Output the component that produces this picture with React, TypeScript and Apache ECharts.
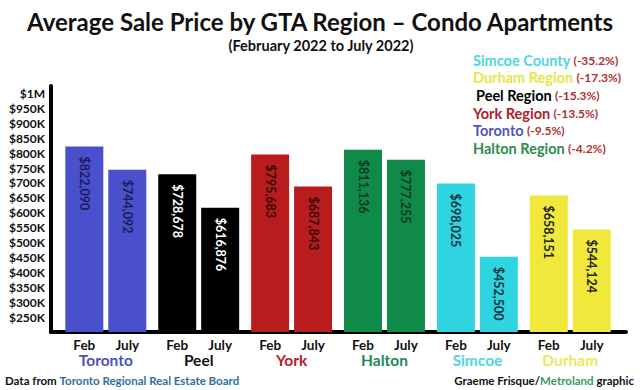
import React, { useEffect, useRef } from "react";
import * as echarts from "echarts";

const regions = ["Toronto", "Peel", "York", "Halton", "Simcoe", "Durham"];
const months = ["Feb", "July"];
const febValues = [822090, 728678, 795683, 811136, 698025, 658151];
const julyValues = [744092, 616876, 687843, 777255, 452500, 544124];
const regionColors = ["#4a4fcc", "#000000", "#b81c1c", "#0f8a49", "#2fd4e0", "#f0e93c"];
const regionNameColors = ["#4b52bf", "#111111", "#b3202a", "#23875a", "#4fd6df", "#e9e95a"];
const valueLabelColors = ["#1a1d5c", "#ffffff", "#3a0a0a", "#0b3a1e", "#0f3540", "#222222"];
const legendNames = ["Simcoe County", "Durham Region", "Peel Region", "York Region", "Toronto", "Halton Region"];
const legendPercents = ["(-35.2%)", "(-17.3%)", "(-15.3%)", "(-13.5%)", "(-9.5%)", "(-4.2%)"];
const legendColors = ["#4fd6dc", "#e6e64a", "#000000", "#b02028", "#5056c0", "#2e8b50"];
const yMin = 200000;
const yMax = 1025000;
const yStep = 50000;

const FONT = "Lato";

export default function App() {
  const ref = useRef<HTMLDivElement>(null);
  useEffect(() => {
    if (!ref.current) return;
    const chart = echarts.init(ref.current, null, { renderer: "svg" });

    const mkSeries = (name: string, vals: number[]) => ({
      name,
      type: "bar",
      barWidth: 38,
      barGap: "13%",
      data: vals.map((v, i) => ({
        value: [i, v],
        itemStyle: { color: regionColors[i] },
        label: { color: valueLabelColors[i] },
      })),
      label: {
        show: true,
        position: "insideTop",
        rotate: -90,
        align: "left",
        verticalAlign: "middle",
        distance: 10,
        fontFamily: FONT,
        fontWeight: "bold",
        fontSize: 12.5,
        formatter: (p: any) => "$" + Number(p.value[1]).toLocaleString("en-US"),
      },
    });

    const rich: any = {
      m: { width: 43, align: "center", fontSize: 13.5, fontWeight: "bold", color: "#111", fontFamily: FONT, lineHeight: 15 },
    };
    regions.forEach((r, i) => {
      rich["r" + i] = { fontSize: 15.5, fontWeight: "bold", color: regionNameColors[i], fontFamily: FONT, lineHeight: 16 };
    });

    const legendGraphics = legendNames.map((n, i) => ({
      type: "text",
      x: i === 2 ? 476 : 473,
      y: 60 + i * 17.7,
      style: {
        text: `{n|${n}} {p|${legendPercents[i]}}`,
        verticalAlign: "middle",
        rich: {
          n: { fontSize: 14.5, fontWeight: "bold", fill: legendColors[i], fontFamily: FONT },
          p: { fontSize: 12, fontWeight: "bold", fill: "#b33030", fontFamily: FONT },
        },
      },
    }));

    chart.setOption({
      animation: false,
      backgroundColor: "#ffffff",
      textStyle: { fontFamily: FONT },
      grid: { left: 51, right: 14, top: 86, bottom: 58, containLabel: false, outerBoundsMode: "none" },
      xAxis: {
        type: "value",
        min: -0.59,
        max: 5.6,
        splitLine: { show: false },
        axisTick: { show: false },
        axisLine: { show: true, onZero: false, lineStyle: { color: "#000", width: 4 } },
        axisLabel: {
          show: true,
          customValues: [0, 1, 2, 3, 4, 5],
          margin: 5,
          formatter: (v: number) => {
            const i = Math.round(v);
            return `{m|${months[0]}}{m|${months[1]}}\n{r${i}|${regions[i]}}`;
          },
          rich,
        },
      },
      yAxis: {
        type: "value",
        min: yMin,
        max: yMax,
        interval: yStep,
        splitLine: { show: false },
        axisTick: { show: false },
        axisLine: { show: true, onZero: false, lineStyle: { color: "#000", width: 4 } },
        axisLabel: {
          margin: 6,
          fontSize: 12,
          fontWeight: "bold",
          color: "#111",
          fontFamily: FONT,
          showMinLabel: false,
          formatter: (v: number) => {
            if (v === yMin || v % yStep !== 0 || v > 1000000) return "";
            if (v === 1000000) return "$1M";
            return "$" + v / 1000 + "K";
          },
        },
      },
      series: [mkSeries(months[0], febValues), mkSeries(months[1], julyValues)],
      graphic: [
        {
          type: "text",
          x: 320,
          y: 21,
          style: {
            text: "Average Sale Price by GTA Region – Condo Apartments",
            align: "center",
            verticalAlign: "middle",
            fontSize: 24,
            fontWeight: "bold",
            fill: "#111",
            fontFamily: FONT,
          },
        },
        {
          type: "text",
          x: 321,
          y: 45,
          style: {
            text: "(February 2022 to July 2022)",
            align: "center",
            verticalAlign: "middle",
            fontSize: 14.5,
            fontWeight: "bold",
            fill: "#111",
            fontFamily: FONT,
          },
        },
        ...legendGraphics,
        {
          type: "text",
          x: 5,
          y: 380,
          style: {
            text: "{a|Data from }{b|Toronto Regional Real Estate Board}",
            verticalAlign: "middle",
            rich: {
              a: { fontSize: 11.5, fontWeight: "bold", fill: "#111", fontFamily: FONT },
              b: { fontSize: 11.5, fontWeight: "bold", fill: "#2f6fa0", fontFamily: FONT },
            },
          },
        },
        {
          type: "text",
          x: 634,
          y: 380,
          style: {
            text: "{a|Graeme Frisque/}{b|Metroland}{a| graphic}",
            align: "right",
            verticalAlign: "middle",
            rich: {
              a: { fontSize: 11.5, fontWeight: "bold", fill: "#111", fontFamily: FONT },
              b: { fontSize: 11.5, fontWeight: "bold", fill: "#3a9a5a", fontFamily: FONT },
            },
          },
        },
      ],
    });
    return () => chart.dispose();
  }, []);
  return (
    <div
      ref={ref}
      style={{ position: "fixed", left: 0, top: 0, width: 640, height: 390, background: "#fff" }}
    />
  );
}
